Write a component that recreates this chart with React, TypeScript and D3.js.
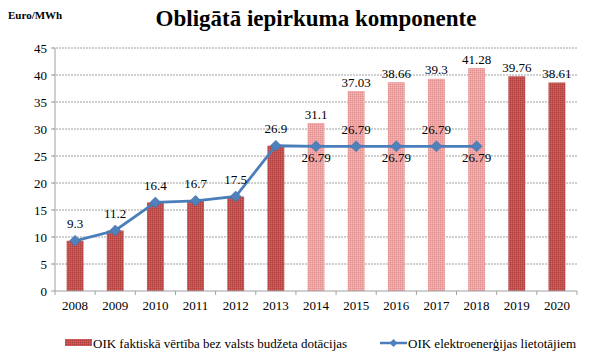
import React from "react";
import * as d3 from "d3";

const years = ["2008","2009","2010","2011","2012","2013","2014","2015","2016","2017","2018","2019","2020"];
const barValues = [9.3, 11.2, 16.4, 16.7, 17.5, 26.9, 31.1, 37.03, 38.66, 39.3, 41.28, 39.76, 38.61];
const barLight = [false, false, false, false, false, false, true, true, true, true, true, false, false];
const lineValues: (number | null)[] = [9.3, 11.2, 16.4, 16.7, 17.5, 26.9, 26.79, 26.79, 26.79, 26.79, 26.79, null, null];
// label placement for line points: "above" or "below"
const linePos = ["above","above","above","above","above","above","below","above","below","above","below","",""];
const yTicks = [0, 5, 10, 15, 20, 25, 30, 35, 40, 45];
const seriesNames = ["OIK faktiskā vērtība bez valsts budžeta dotācijas", "OIK elektroenerģijas lietotājiem"];
const title = "Obligātā iepirkuma komponente";
const unit = "Euro/MWh";

export default function App() {
  const W = 596, H = 355;
  const x = d3.scaleBand<string>().domain(years).range([55, 577]).paddingInner(0.58).paddingOuter(0.29);
  const y = d3.scaleLinear().domain([0, 45]).range([291, 48]);
  const font = "'Liberation Serif', 'Times New Roman', serif";
  const fs = 13;
  const cx = (i: number) => (x(years[i]) as number) + x.bandwidth() / 2;
  const step = x.step();
  const linePts = lineValues.map((v, i) => (v == null ? null : [cx(i), y(v)] as [number, number]));
  const lineGen = d3.line<[number, number] | null>().defined(d => d != null).x(d => d![0]).y(d => d![1]);
  const diamond = (px: number, py: number, r: number) => `M${px},${py - r}L${px + r},${py}L${px},${py + r}L${px - r},${py}Z`;

  return (
    <svg width={W} height={H} style={{ position: "absolute", left: 0, top: 0, background: "#fff" }} fontFamily={font}>
      <defs>
        <pattern id="darkP" width="2" height="2" patternUnits="userSpaceOnUse">
          <rect width="2" height="2" fill="#C4504D" />
          <rect width="1" height="1" fill="#B04241" />
          <rect x="1" y="1" width="1" height="1" fill="#D0625F" />
        </pattern>
        <pattern id="lightP" width="2" height="2" patternUnits="userSpaceOnUse">
          <rect width="2" height="2" fill="#EAA3A2" />
          <rect width="1" height="1" fill="#E29392" />
          <rect x="1" y="1" width="1" height="1" fill="#F1B9B8" />
        </pattern>
      </defs>
      <rect width={W} height={H} fill="#fff" />
      <text x={8} y={19} fontSize={11} fontWeight="bold">{unit}</text>
      <text x={316} y={26} fontSize={23} fontWeight="bold" textAnchor="middle">{title}</text>
      {yTicks.map(t => (
        <g key={t}>
          {t > 0 && <line x1={53} x2={577} y1={y(t)} y2={y(t)} stroke="#A0A0A0" strokeDasharray="2,1" strokeWidth={1} />}
          <line x1={51} x2={55} y1={y(t)} y2={y(t)} stroke="#A0A0A0" />
          <text x={47} y={y(t)} fontSize={fs} textAnchor="end" dominantBaseline="central">{t}</text>
        </g>
      ))}
      <line x1={55} x2={55} y1={y(45)} y2={y(0)} stroke="#A0A0A0" />
      {barValues.map((v, i) => (
        <rect key={i} x={x(years[i])} y={y(v)} width={x.bandwidth()} height={y(0) - y(v)} fill={barLight[i] ? "url(#lightP)" : "url(#darkP)"} />
      ))}
      <line x1={55} x2={577} y1={y(0)} y2={y(0)} stroke="#A0A0A0" />
      {years.map((yr, i) => (
        <g key={yr}>
          <line x1={55 + step * i} x2={55 + step * i} y1={y(0)} y2={y(0) + 4} stroke="#A0A0A0" />
          <text x={cx(i)} y={305} fontSize={fs} textAnchor="middle" dominantBaseline="central">{yr}</text>
        </g>
      ))}
      <line x1={577} x2={577} y1={y(0)} y2={y(0) + 4} stroke="#A0A0A0" />
      {barValues.map((v, i) => barLight[i] || i >= 11 ? (
        <text key={"bl" + i} x={cx(i)} y={y(v) - 9} fontSize={fs} textAnchor="middle" dominantBaseline="central">{v}</text>
      ) : null)}
      <path d={lineGen(linePts) || ""} fill="none" stroke="#4A7EBB" strokeWidth={2.8} />
      {linePts.map((p, i) => p ? (
        <path key={"m" + i} d={diamond(p[0], p[1], 5.5)} fill="#4F81BD" stroke="#3B6AA0" strokeWidth={0.5} />
      ) : null)}
      {lineValues.map((v, i) => v == null ? null : (
        <text key={"ll" + i} x={cx(i)} y={linePos[i] === "above" ? y(v) - 17 : y(v) + 11} fontSize={fs} textAnchor="middle" dominantBaseline="central">{v}</text>
      ))}
      <g>
        <rect x={65} y={339} width={27} height={7} fill="url(#darkP)" />
        <text x={93} y={343} fontSize={fs} dominantBaseline="central">{seriesNames[0]}</text>
        <line x1={380} x2={407} y1={343} y2={343} stroke="#4A7EBB" strokeWidth={2.5} />
        <path d={diamond(393.5, 343, 4)} fill="#4F81BD" />
        <text x={408} y={343} fontSize={fs} dominantBaseline="central">{seriesNames[1]}</text>
      </g>
    </svg>
  );
}
